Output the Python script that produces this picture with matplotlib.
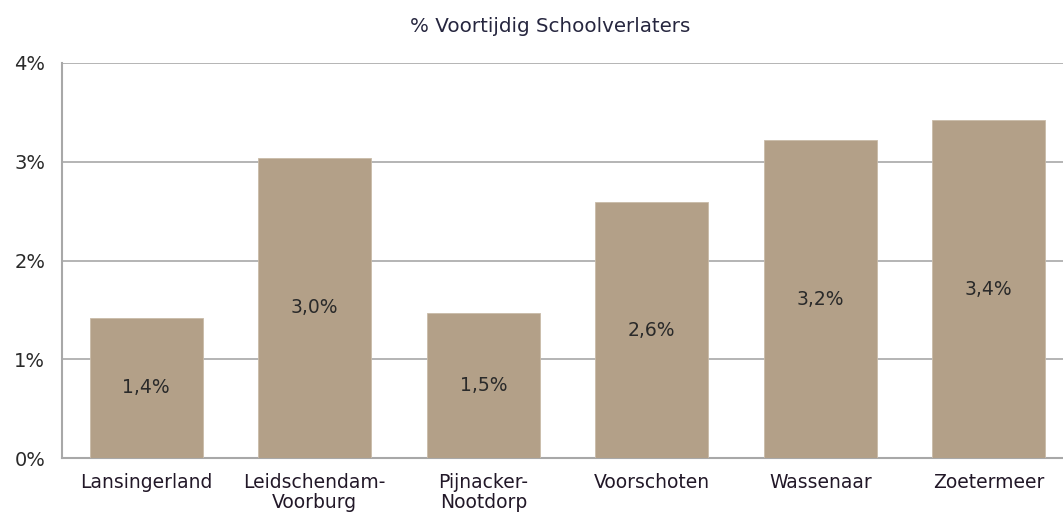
import matplotlib
matplotlib.use("Agg")
import matplotlib.pyplot as plt
import numpy as np

gemeenten = ["Lansingerland", "Leidschendam-\nVoorburg", "Pijnacker-\nNootdorp",
             "Voorschoten", "Wassenaar", "Zoetermeer"]
percentages = [1.42, 3.04, 1.47, 2.59, 3.22, 3.42]
yticks = [0, 1, 2, 3, 4]

plt.rcParams["font.family"] = ["DejaVu Sans"]

fig = plt.figure(figsize=(10.63, 5.12), dpi=100)
ax = fig.add_axes([62 / 1063, 54 / 512, 1011 / 1063, 395 / 512])

x = np.arange(len(gemeenten))
ax.bar(x, percentages, width=0.67, color="#B3A088", edgecolor="#C9BBA8", linewidth=0.6, zorder=3)

# waarde-labels midden in de balk
for xi, v in zip(x, percentages):
    ax.text(xi, v / 2, f"{v:.1f}%".replace(".", ","), ha="center", va="center",
            fontsize=13.5, color="#2a2a2a", zorder=4)

ax.set_xlim(-0.5, len(gemeenten) - 0.5)
ax.set_ylim(0, 4)
ax.set_yticks(yticks)
ax.set_yticklabels([f"{t}%" for t in yticks], fontsize=14, color="#2a2a2a")
ax.set_xticks(x)
ax.set_xticklabels(gemeenten, fontsize=13.5, color="#221828", linespacing=1.05)
ax.tick_params(axis="both", length=0)
ax.tick_params(axis="x", pad=11)
ax.tick_params(axis="y", pad=12)

ax.grid(axis="y", color="#A8A8A8", linewidth=1.2, zorder=0)
for side in ["top", "right"]:
    ax.spines[side].set_visible(False)
for side in ["left", "bottom"]:
    ax.spines[side].set_color("#A8A8A8")
    ax.spines[side].set_linewidth(1.5)

fig.text(550 / 1063, 1 - 27 / 512, "% Voortijdig Schoolverlaters", ha="center", va="center",
         fontsize=14.3, color="#26263f")

fig.savefig("out.png", dpi=100)
